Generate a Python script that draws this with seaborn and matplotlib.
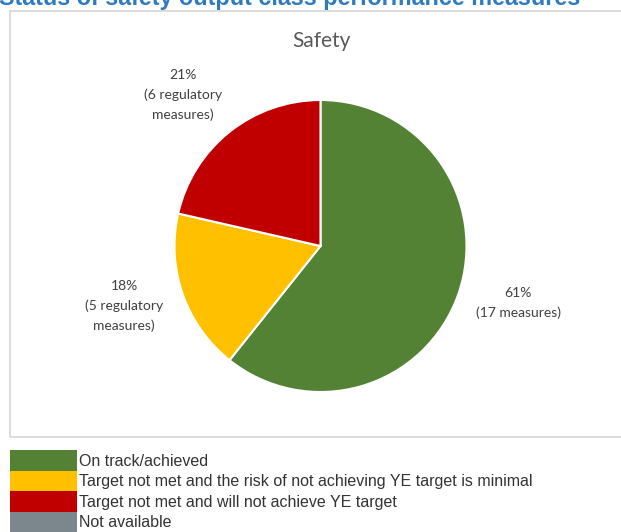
import matplotlib
matplotlib.use("Agg")
import matplotlib.pyplot as plt
from matplotlib.patches import Rectangle
import seaborn as sns

# Performance measure status counts
statuses = ["On track/achieved",
            "Target not met and the risk of not achieving YE target is minimal",
            "Target not met and will not achieve YE target",
            "Not available"]
counts = [17, 5, 6]
percents = [61, 18, 21]
slice_labels = ["61%\n(17 measures)",
                "18%\n(5 regulatory\nmeasures)",
                "21%\n(6 regulatory\nmeasures)"]
colors = ["#548235", "#ffc000", "#c00000", "#7c868d"]

sns.set_theme(style="white")
plt.rcParams["font.family"] = ["Lato", "DejaVu Sans"]

W, H = 621, 532
fig = plt.figure(figsize=(W / 100, H / 100), dpi=100)
fig.patch.set_facecolor("white")


def px(x, y):
    """Pixel position (from top-left) to figure fraction."""
    return x / W, 1 - y / H


# Page heading, clipped at the top edge
fig.text(*px(-1, 5.5), "Status of safety output class performance measures",
         family=["Liberation Sans"], fontweight="bold", fontsize=16.8,
         color="#2e7bbf", ha="left", va="baseline")

# Chart frame
frame = Rectangle(px(9.5, 436.5), (W + 10) / W, 426 / H, transform=fig.transFigure,
                  fill=False, edgecolor="#d9d9d9", linewidth=1.3)
fig.patches.append(frame)

# Chart title
fig.text(*px(321, 41), "Safety", fontsize=15, color="#595959",
         ha="center", va="center")

# Pie
cx, cy, r = 320.5, 246, 146
ax = fig.add_axes([(cx - r) / W, 1 - (cy + r) / H, 2 * r / W, 2 * r / H])
ax.pie(counts, colors=colors[:3], startangle=90, counterclock=False,
       wedgeprops=dict(edgecolor="white", linewidth=1.5))
ax.set_xlim(-1, 1)
ax.set_ylim(-1, 1)
ax.set_aspect("auto")
ax.axis("off")

label_pos = [(518, 303), (124, 306), (183, 95)]
for (lx, ly), txt in zip(label_pos, slice_labels):
    fig.text(*px(lx, ly), txt, fontsize=10, color="#404040",
             ha="center", va="center", linespacing=1.68)

# Status key below the chart
row_top = [450, 470.5, 491, 511.5]
for top, col, name in zip(row_top, colors, statuses):
    fig.patches.append(Rectangle(px(10, top + 20.5), 67 / W, 20.5 / H,
                                 transform=fig.transFigure, facecolor=col,
                                 edgecolor="none"))
    fig.text(*px(79, top + 11), name, family=["Liberation Sans"], fontsize=11.5,
             color="#333333", ha="left", va="center")

fig.savefig("out.png", dpi=100)
